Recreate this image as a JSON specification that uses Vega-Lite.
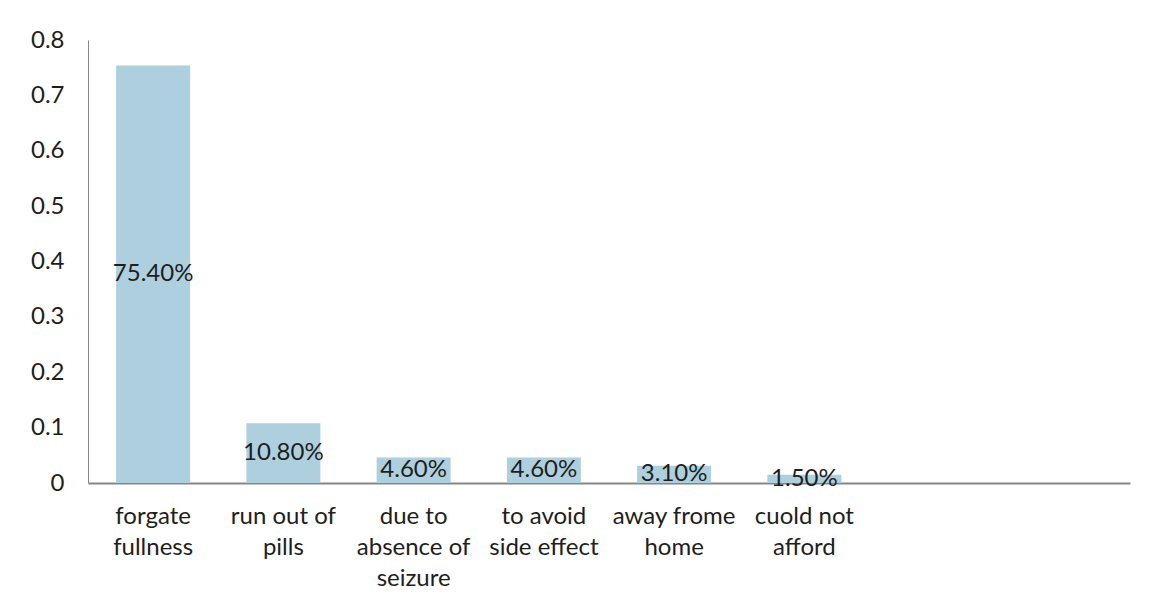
{
  "$schema": "https://vega.github.io/schema/vega-lite/v6.json",
  "width": 1042,
  "height": 443,
  "autosize": {"type": "none"},
  "padding": {"left": 88, "top": 40, "right": 31, "bottom": 128},
  "background": "white",
  "config": {
    "view": {"stroke": null},
    "font": "Lato",
    "axis": {"labelFont": "Lato", "labelColor": "#1e1e1e", "grid": false, "ticks": false}
  },
  "data": {
    "values": [
      {"reason": "forgate fullness", "value": 0.754},
      {"reason": "run out of pills", "value": 0.108},
      {"reason": "due to absence of seizure", "value": 0.046},
      {"reason": "to avoid side effect", "value": 0.046},
      {"reason": "away frome home", "value": 0.031},
      {"reason": "cuold not afford", "value": 0.015}
    ]
  },
  "encoding": {
    "x": {
      "field": "reason",
      "type": "nominal",
      "sort": null,
      "scale": {
        "domain": ["forgate fullness", "run out of pills", "due to absence of seizure", "to avoid side effect", "away frome home", "cuold not afford", "_7", "_8"],
        "paddingInner": 0.432,
        "paddingOuter": 0.216
      },
      "axis": {
        "title": null,
        "labelAngle": 0,
        "labelFontSize": 24,
        "labelLineHeight": 31,
        "labelBaseline": "top",
        "labelPadding": 21,
        "domainColor": "#868686",
        "domainWidth": 2,
        "labelExpr": "datum.value == 'forgate fullness' ? ['forgate','fullness'] : datum.value == 'run out of pills' ? ['run out of','pills'] : datum.value == 'due to absence of seizure' ? ['due to','absence of','seizure'] : datum.value == 'to avoid side effect' ? ['to avoid','side effect'] : datum.value == 'away frome home' ? ['away frome','home'] : datum.value == 'cuold not afford' ? ['cuold not','afford'] : ''"
      }
    }
  },
  "layer": [
    {
      "mark": {"type": "bar", "color": "#aed0de"},
      "encoding": {
        "y": {
          "field": "value",
          "type": "quantitative",
          "scale": {"domain": [0, 0.8], "nice": false},
          "axis": {
            "title": null,
            "values": [0, 0.1, 0.2, 0.3, 0.4, 0.5, 0.6, 0.7, 0.8],
            "format": ".1~f",
            "labelFontSize": 24,
            "labelPadding": 24,
            "domainColor": "#868686",
            "domainWidth": 1
          }
        }
      }
    },
    {
      "mark": {"type": "text", "baseline": "middle", "align": "center", "fontSize": 24, "color": "#1e1e1e"},
      "encoding": {
        "y": {
          "field": "value",
          "type": "quantitative",
          "scale": {"domain": [0, 1.6], "nice": false},
          "axis": null
        },
        "text": {"field": "value", "type": "quantitative", "format": ".2%"}
      }
    }
  ],
  "resolve": {"scale": {"y": "independent"}}
}
